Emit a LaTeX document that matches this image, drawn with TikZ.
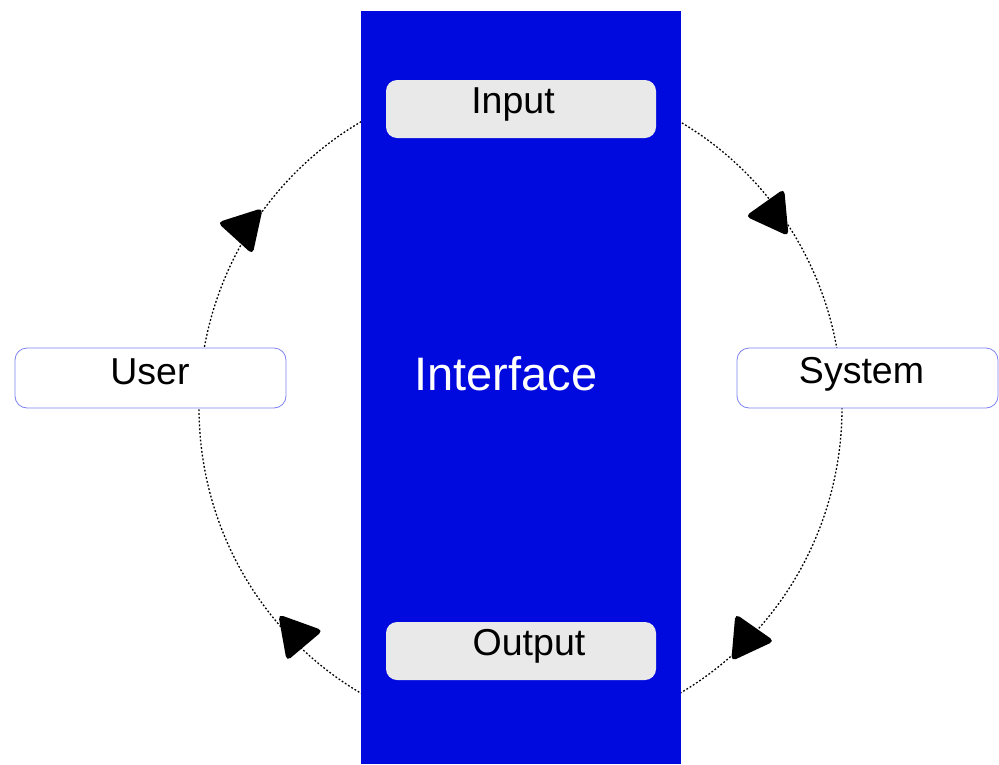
\documentclass[tikz,border=0pt]{standalone}
\usepackage{fontspec}
\setmainfont{Liberation Sans}
\usetikzlibrary{shapes.geometric}

\definecolor{barblue}{RGB}{0,10,222}
\definecolor{boxgrey}{RGB}{233,233,233}
\definecolor{sideline}{RGB}{125,130,240}

\tikzset{
  ring/.style={line width=1.3pt, dash pattern=on 1.8pt off 2.0pt, black},
  tri/.style={regular polygon, regular polygon sides=3, fill=black, draw=none,
              minimum size=55pt, inner sep=0pt, rounded corners=5pt},
  bar/.style={fill=barblue, draw=none, inner sep=0pt, minimum width=320pt, minimum height=753pt},
  greybox/.style={fill=boxgrey, draw=none, rounded corners=11pt, inner sep=0pt,
                  minimum width=270pt, minimum height=58pt},
  sidebox/.style={fill=white, draw=sideline, line width=0.8pt, rounded corners=12pt,
                  inner sep=0pt, minimum height=60pt},
  lbl/.style={anchor=base, inner sep=0pt, font=\fontsize{37.5}{45}\selectfont},
  biglbl/.style={anchor=base, inner sep=0pt, text=white, font=\fontsize{47}{56}\selectfont}
}

\begin{document}
\begin{tikzpicture}[x=1pt, y=-1pt]
  \useasboundingbox (0,0) rectangle (999,764);

  % the dotted loop around the interface
  \draw[ring] (520.5,407.5) ellipse [x radius=321.5, y radius=329];

  % direction markers on the loop
  \node[tri, shape border rotate=77.7]  (a1) at (244.3,228.3) {};
  \node[tri, shape border rotate=95.3]  (a2) at (772.7,213.7) {};
  \node[tri, shape border rotate=-95]   (a3) at (747,638.7) {};
  \node[tri, shape border rotate=-79.8] (a4) at (296,635.3) {};

  % the interface band
  \node[bar] (interface) at (520.7,387.5) {};
  \node[biglbl] (interface-text) at (506,390) {Interface};

  % input and output slots
  \node[greybox] (input) at (521,109) {};
  \node[lbl] (input-text) at (513,113) {Input};
  \node[greybox] (output) at (521,651) {};
  \node[lbl] (output-text) at (529,655) {Output};

  % the two parties
  \node[sidebox, minimum width=271pt] (user) at (150.5,378) {};
  \node[lbl] (user-text) at (150,384) {User};
  \node[sidebox, minimum width=261pt] (system) at (867.5,378) {};
  \node[lbl] (system-text) at (861.5,383) {System};
\end{tikzpicture}
\end{document}
